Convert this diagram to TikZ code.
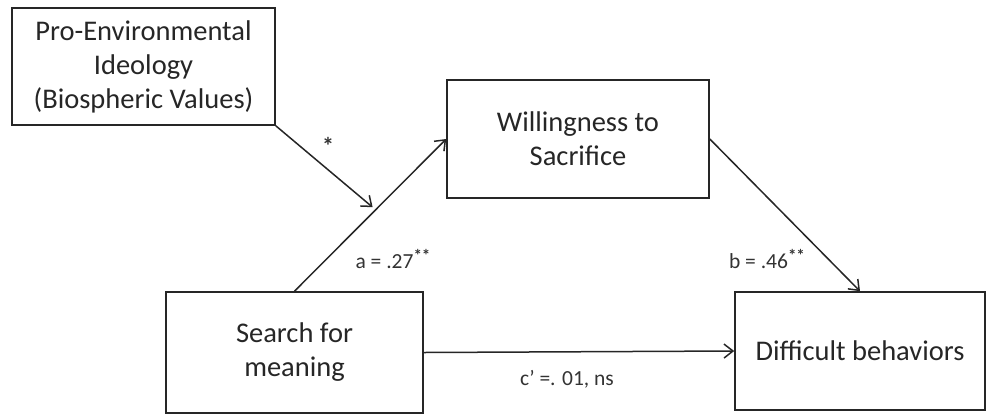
\documentclass[tikz,border=0pt]{standalone}
\usepackage{fontspec}
\setmainfont{Carlito}
\usetikzlibrary{arrows.meta}
\newcommand{\twostar}{\raisebox{0.3em}{\fontsize{17}{17}\selectfont\bfseries **}}
\begin{document}
\begin{tikzpicture}[x=1pt,y=-1pt,
  box/.style={draw=black!85,line width=1.6pt,align=center,inner sep=0pt,
    font=\fontsize{28.5}{34}\selectfont,text=black!85},
  conn/.style={draw=black!85,line width=1.5pt,-{Straight Barb[length=9pt,width=14pt,line width=1.5pt]}},
  lab/.style={font=\fontsize{21.5}{24}\selectfont,text=black!80,inner sep=0pt}]
\useasboundingbox (0,0) rectangle (987,416);
\node[box,minimum width=263pt,minimum height=117pt] (pe) at (143.5,66.5)
  {Pro-Environmental\\Ideology\\(Biospheric Values)};
\node[box,minimum width=262pt,minimum height=118pt] (ws) at (578,139)
  {Willingness to\\Sacrifice};
\node[box,minimum width=257pt,minimum height=121pt] (sm) at (294.5,352.5)
  {Search for\\meaning};
\node[box,minimum width=250pt,minimum height=118pt] (db) at (860,351)
  {Difficult behaviors};
\draw[conn] (sm.north) -- coordinate[pos=0.535] (m) (ws.west);
\draw[conn,shorten >=4pt] (pe.south east) -- (m);
\draw[conn] (ws.east) -- (db.north);
\draw[conn] (sm.east) -- (db.west);
\node[lab,font=\fontsize{24}{24}\selectfont\bfseries] (ls) at (328,146) {*};
\node[lab] (la) at (393,259) {a = .27\twostar};
\node[lab] (lb) at (767,259) {b = .46\twostar};
\node[lab] (lc) at (567,379) {c’ =. 01, ns};
\end{tikzpicture}
\end{document}
